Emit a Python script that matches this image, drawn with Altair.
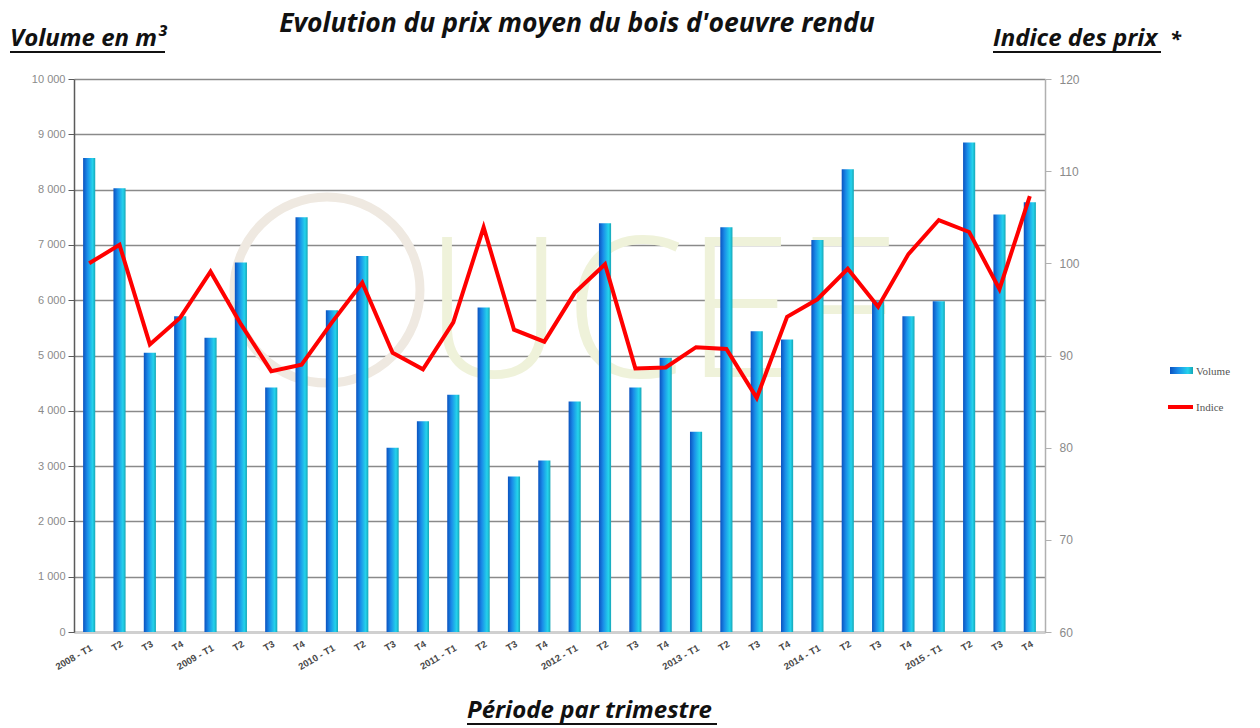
import altair as alt
import pandas as pd

# ---- data ----
years = ["2008", "2009", "2010", "2011", "2012", "2013", "2014", "2015"]
quarters = ["T1", "T2", "T3", "T4"]
periods = [f"{y} - {q}" for y in years for q in quarters]

volume = [8570, 8025, 5050, 5710, 5320, 6680, 4420, 7500,
          5820, 6800, 3330, 3810, 4290, 5870, 2810, 3100,
          4170, 7390, 4420, 4960, 3620, 7320, 5440, 5290,
          7090, 8370, 5980, 5710, 5980, 8850, 7550, 7770]

indice = [100.0, 102.0, 91.2, 94.1, 99.1, 93.4, 88.3, 89.0,
          93.6, 97.9, 90.3, 88.5, 93.6, 103.9, 92.8, 91.5,
          96.8, 99.9, 88.6, 88.7, 90.9, 90.7, 85.4, 94.2,
          96.1, 99.4, 95.3, 101.0, 104.7, 103.4, 97.2, 107.3]

vol_ticks = list(range(0, 10001, 1000))
idx_ticks = list(range(60, 121, 10))

title_text = "Evolution du prix moyen du bois d'oeuvre rendu"
left_title = "Volume en m³"
right_title = "Indice des prix"
x_title = "Période par trimestre"
legend_labels = ["Volume", "Indice"]

df = pd.DataFrame({"periode": periods, "volume": volume, "indice": indice})
one = pd.DataFrame({"a": [0]})

W, H = 971, 553

bar_grad = alt.LinearGradient(
    gradient="linear", x1=0, x2=1, y1=0, y2=0,
    stops=[alt.GradientStop(color="#0b52c0", offset=0),
           alt.GradientStop(color="#1a8de8", offset=0.35),
           alt.GradientStop(color="#24d2ec", offset=0.78),
           alt.GradientStop(color="#16a6b6", offset=1)])

x_axis = alt.Axis(labels=False, ticks=False, domainColor="#d0d0d0", domainWidth=3)
x_scale = alt.Scale(paddingInner=0.6, paddingOuter=0.3)

def xenc():
    return alt.X("periode:N", sort=periods, title=None, scale=x_scale, axis=x_axis)

# watermark
wm_circle = alt.Chart(one).mark_point(shape="circle", size=34596, filled=False,
                                       stroke="#efe9e1", strokeWidth=9, opacity=1).encode(
    x=alt.value(253), y=alt.value(211))
wm_text = alt.Chart(one).mark_text(text="UCEF", fontSize=195, font="Open Sans", fontWeight=300,
                                   color="#eff2da", align="left", baseline="alphabetic").encode(
    x=alt.value(350), y=alt.value(298))

bars = alt.Chart(df).mark_bar(color=bar_grad).encode(
    x=xenc(),
    y=alt.Y("volume:Q", title=None,
            scale=alt.Scale(domain=[0, 10000], nice=False),
            axis=alt.Axis(orient="left", values=vol_ticks, grid=True,
                          gridColor="#8a8a8a", gridWidth=1.6,
                          domainColor="#5a5a5a", domainWidth=1.5,
                          tickColor="#5a5a5a", tickSize=6,
                          labelColor="#8a8a8a", labelFontSize=11, labelFont="Liberation Sans",
                          labelPadding=3,
                          labelExpr="replace(format(datum.value, ','), ',', ' ')")),
)

line = alt.Chart(df).mark_line(color="#ff0000", strokeWidth=4).encode(
    x=xenc(),
    y=alt.Y("indice:Q", title=None,
            scale=alt.Scale(domain=[60, 120], nice=False),
            axis=alt.Axis(orient="right", values=idx_ticks, grid=False,
                          domainColor="#b0b0b0", domainWidth=1.5,
                          tickColor="#b0b0b0", tickSize=6,
                          labelColor="#8a8a8a", labelFontSize=12, labelFont="Liberation Sans",
                          labelPadding=8)),
)

# rotated category labels, placed through the x scale
xlab_base = alt.Chart(df).transform_calculate(
    lab="indexof(datum.periode, 'T1') > 0 ? datum.periode : substring(datum.periode, 7)",
    isT1="indexof(datum.periode, 'T1') > 0"
)
xlabels_q = xlab_base.transform_filter("!datum.isT1").mark_text(
    align="right", baseline="top", fontSize=9.5, fontWeight="bold",
    font="Liberation Sans", color="#4a4a4a").encode(
    x=xenc(), y=alt.value(H + 7), text="lab:N", angle=alt.value(330))
xlabels_y = xlab_base.transform_filter("datum.isT1").mark_text(
    align="right", baseline="top", fontSize=9.5, fontWeight="bold",
    font="Liberation Sans", color="#4a4a4a").encode(
    x=xenc(), y=alt.value(H + 11), text="lab:N", angle=alt.value(330))

def txt(text, x, y, size, align="left", style="italic", weight="bold", font="Open Sans",
        color="#111111"):
    return alt.Chart(one).mark_text(text=text, fontSize=size, align=align, baseline="alphabetic",
                                    fontStyle=style, fontWeight=weight, font=font,
                                    color=color).encode(x=alt.value(x), y=alt.value(y))

def uline(x1, x2, y):
    return alt.Chart(one).mark_rule(color="#111111", strokeWidth=1.8).encode(
        x=alt.value(x1), x2=alt.value(x2), y=alt.value(y))

deco = [
    txt(title_text, 503, -47, 26.5, align="center"),
    txt(left_title, -64, -33, 24),
    uline(-64, 91, -27),
    txt(right_title, 919, -33, 24),
    txt("*", 1096, -33, 20),
    uline(919, 1087, -27),
    txt(x_title, 393, 639, 24),
    uline(393, 643, 645),
    # legend
    alt.Chart(one).mark_rect(color=bar_grad).encode(
        x=alt.value(1096), x2=alt.value(1119), y=alt.value(288), y2=alt.value(295)),
    txt(legend_labels[0], 1122, 296, 11, style="normal", weight="normal",
        font="Liberation Serif", color="#555555"),
    alt.Chart(one).mark_rule(color="#ff0000", strokeWidth=4).encode(
        x=alt.value(1094), x2=alt.value(1119), y=alt.value(328)),
    txt(legend_labels[1], 1122, 332, 11, style="normal", weight="normal",
        font="Liberation Serif", color="#555555"),
]

chart = alt.layer(wm_circle, wm_text, bars, line, xlabels_q, xlabels_y, *deco).resolve_scale(
    y="independent").properties(
    width=W, height=H,
    autosize=alt.AutoSizeParams(type="none"),
    padding={"left": 66, "top": 71, "right": 207, "bottom": 96},
    background="white",
).configure_view(stroke=None)

chart.save("out.html", embed_options={"renderer": "svg", "actions": False})
